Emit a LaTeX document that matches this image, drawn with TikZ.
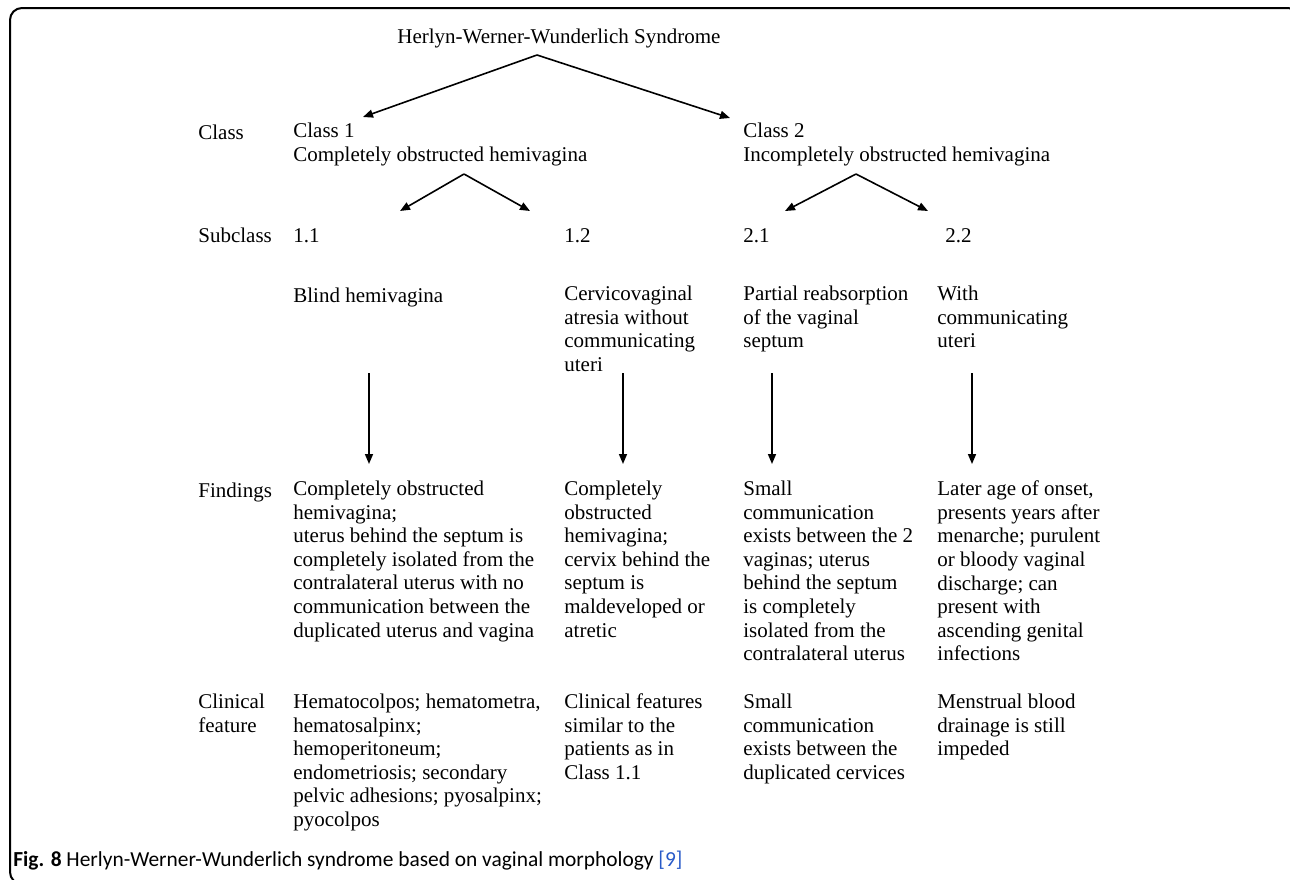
\documentclass[tikz,border=0pt]{standalone}
\usepackage{fontspec}
\setmainfont{Liberation Serif}
\newfontfamily\capfont{Carlito}
\usetikzlibrary{arrows.meta}
\definecolor{reflink}{RGB}{40,90,200}

\begin{document}
\begin{tikzpicture}[
  x=0.5pt, y=-0.5pt,
  font=\fontsize{10.5}{11.8}\selectfont,
  txt/.style={anchor=north west, inner sep=0pt, align=left, execute at begin node=\strut},
  arr/.style={-{Triangle[length=5pt,width=4pt]}, line width=0.8pt},
]
\def\xlab{198}
\def\xone{293}
\def\xtwo{564}
\def\xthree{743}
\def\xfour{937}

\path[use as bounding box] (0,0) rectangle (1290,879);
\draw[line width=1pt, rounded corners=6pt] (10,884) rectangle (1300,8);

% top and classes
\node[txt] (hww) at (397,26.5) {Herlyn-Werner-Wunderlich Syndrome};
\node[txt] (classlab) at (\xlab,122.5) {Class};
\node[txt] (class1) at (\xone,122.5) {Class 1\\Completely obstructed hemivagina};
\node[txt] (class2) at (\xthree,122.5) {Class 2\\Incompletely obstructed hemivagina};

% subclasses
\node[txt] (sublab) at (\xlab,225.5) {Subclass};
\node[txt] (s11) at (\xone,225.5) {1.1};
\node[txt] (s12) at (\xtwo,225.5) {1.2};
\node[txt] (s21) at (\xthree,225.5) {2.1};
\node[txt] (s22) at (945,225.5) {2.2};

\node[txt] (d11) at (\xone,285.5) {Blind hemivagina};
\node[txt] (d12) at (\xtwo,285.5) {Cervicovaginal\\atresia without\\communicating\\uteri};
\node[txt] (d21) at (\xthree,285.5) {Partial reabsorption\\of the vaginal\\septum};
\node[txt] (d22) at (\xfour,285.5) {With\\communicating\\uteri};

% findings
\node[txt] (findlab) at (\xlab,480.5) {Findings};
\node[txt] (f11) at (\xone,480.5) {Completely obstructed\\hemivagina;\\uterus behind the septum is\\completely isolated from the\\contralateral uterus with no\\communication between the\\duplicated uterus and vagina};
\node[txt] (f12) at (\xtwo,480.5) {Completely\\obstructed\\hemivagina;\\cervix behind the\\septum is\\maldeveloped or\\atretic};
\node[txt] (f21) at (\xthree,480.5) {Small\\communication\\exists between the 2\\vaginas; uterus\\behind the septum\\is completely\\isolated from the\\contralateral uterus};
\node[txt] (f22) at (\xfour,480.5) {Later age of onset,\\presents years after\\menarche; purulent\\or bloody vaginal\\discharge; can\\present with\\ascending genital\\infections};

% clinical features
\node[txt] (cliniclab) at (\xlab,693.5) {Clinical\\feature};
\node[txt] (k11) at (\xone,693.5) {Hematocolpos; hematometra,\\hematosalpinx;\\hemoperitoneum;\\endometriosis; secondary\\pelvic adhesions; pyosalpinx;\\pyocolpos};
\node[txt] (k12) at (\xtwo,693.5) {Clinical features\\similar to the\\patients as in\\Class 1.1};
\node[txt] (k21) at (\xthree,693.5) {Small\\communication\\exists between the\\duplicated cervices};
\node[txt] (k22) at (\xfour,693.5) {Menstrual blood\\drainage is still\\impeded};

\node[anchor=base west, inner sep=0pt, font=\capfont\fontsize{10.7}{12}\selectfont] (caption) at (13,866)
  {\textbf{Fig. 8} Herlyn-Werner-Wunderlich syndrome based on vaginal morphology {\color{reflink}[9]}};

% arrows
\coordinate (hwwfork) at (537,55);
\coordinate (c1in) at (363,117);
\coordinate (c2in) at (730,118);
\coordinate (c1fork) at (464,174);
\coordinate (s11in) at (400,211);
\coordinate (s12in) at (530,211);
\coordinate (c2fork) at (856,174);
\coordinate (s21in) at (785,211);
\coordinate (s22in) at (928,211);

\draw[arr] (hwwfork) -- (c1in);
\draw[arr] (hwwfork) -- (c2in);
\draw[arr] (c1fork) -- (s11in);
\draw[arr] (c1fork) -- (s12in);
\draw[arr] (c2fork) -- (s21in);
\draw[arr] (c2fork) -- (s22in);

\foreach \x [count=\i] in {369,623,772,972} {
  \coordinate (dtop\i) at (\x,373);
  \coordinate (dbot\i) at (\x,464);
  \draw[arr] (dtop\i) -- (dbot\i);
}
\end{tikzpicture}
\end{document}
